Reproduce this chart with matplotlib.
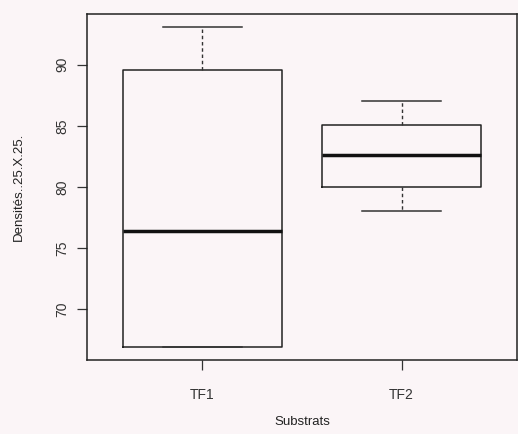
import numpy as np
import matplotlib.pyplot as plt

plt.rcParams['font.family'] = ['Liberation Sans', 'DejaVu Sans']

# five-number summaries
substrats = ['TF1', 'TF2']
whisk_lo = [66.9, 78.0]
q1 = [66.9, 80.0]
med = [76.4, 82.6]
q3 = [89.6, 85.1]
whisk_hi = [93.1, 87.0]


def main():
    fig = plt.figure(figsize=(5.18, 4.34), dpi=100)
    fig.patch.set_facecolor('#fbf5f7')
    ax = fig.add_axes([87/518, 74/434, 430/518, 346/434])
    ax.set_facecolor('#fbf5f7')

    stats = []
    for i in range(len(substrats)):
        stats.append(dict(whislo=whisk_lo[i], q1=q1[i], med=med[i],
                          q3=q3[i], whishi=whisk_hi[i], label=substrats[i]))

    ax.bxp(stats, positions=[1, 2], widths=0.8, showfliers=False,
           boxprops=dict(color='#222222', lw=1.1),
           medianprops=dict(color='#111111', lw=2.5),
           whiskerprops=dict(color='#333333', lw=1.0, ls=(0, (2.5, 2))),
           capprops=dict(color='#333333', lw=1.1),
           capwidths=0.4)

    ax.set_xlim(0.42, 2.58)
    ax.set_ylim(65.85, 94.15)
    ax.set_yticks([70, 75, 80, 85, 90])
    ax.set_yticklabels(['70', '75', '80', '85', '90'], rotation=90, va='center')
    ax.tick_params(direction='out', length=7, width=0.9, labelsize=10,
                   colors='#333333', pad=6)
    ax.tick_params(axis='x', pad=13)
    for s in ax.spines.values():
        s.set_color('#222222')
        s.set_linewidth(1.1)

    ax.set_xlabel('Substrats', fontsize=9.5, color='#222222', labelpad=10)
    ax.set_ylabel('Densités..25.X.25.', fontsize=9.5, color='#222222', labelpad=22)

    fig.savefig('out.png', dpi=100, facecolor=fig.get_facecolor())
    plt.close()


if __name__ == "__main__":
    main()
